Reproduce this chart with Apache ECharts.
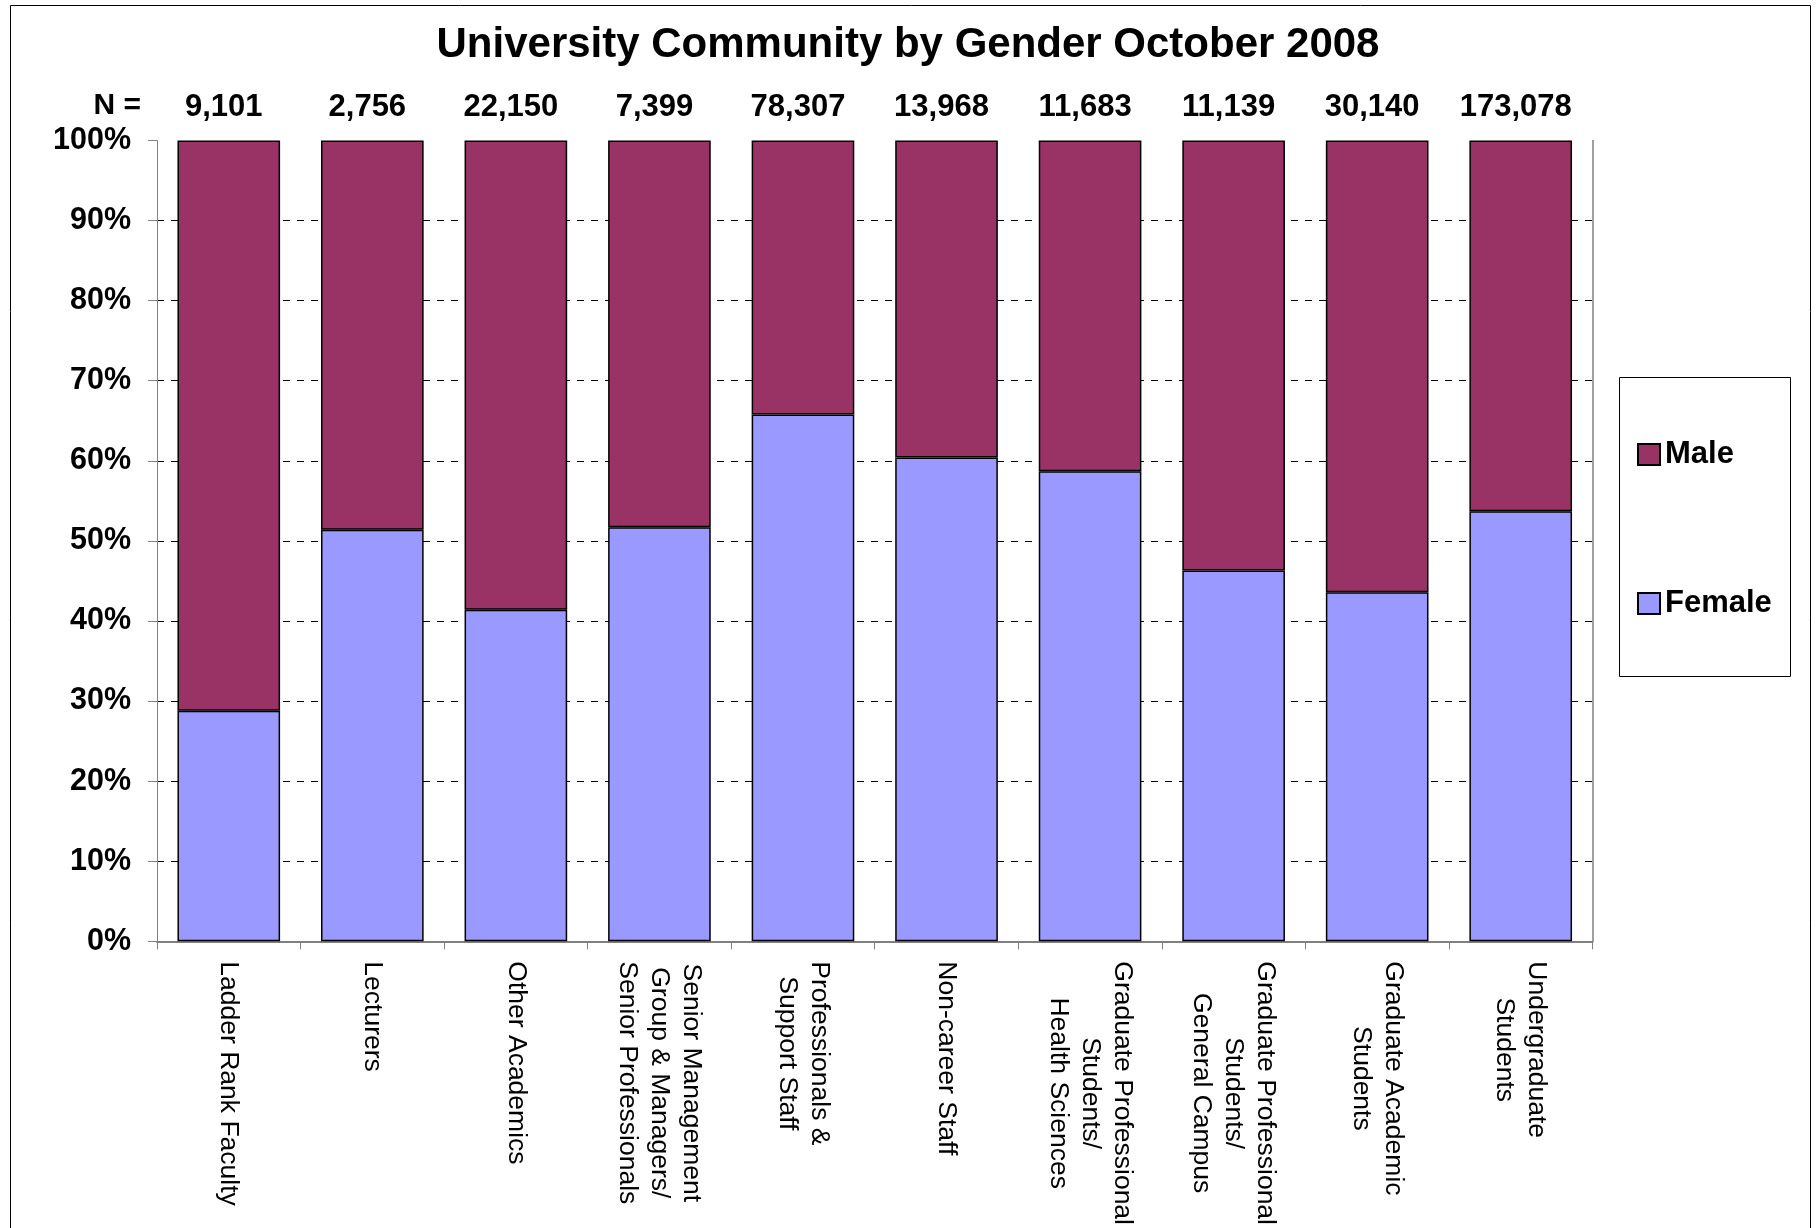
<!DOCTYPE html>
<html>
<head>
<meta charset="utf-8">
<script src="https://cdn.jsdelivr.net/npm/echarts@6/dist/echarts.min.js"></script>
<style>
html,body{margin:0;padding:0;background:#fff;}
#chart{width:1818px;height:1228px;}
</style>
</head>
<body>
<div id="chart"></div>
<script>
var categories = [
  "Ladder Rank Faculty",
  "Lecturers",
  "Other Academics",
  "Senior Management\nGroup & Managers/\nSenior Professionals",
  "Professionals &\nSupport Staff",
  "Non-career Staff",
  "Graduate Professional\nStudents/\nHealth Sciences",
  "Graduate Professional\nStudents/\nGeneral Campus",
  "Graduate Academic\nStudents",
  "Undergraduate\nStudents"
];
var nLabels = ["9,101", "2,756", "22,150", "7,399", "78,307", "13,968", "11,683", "11,139", "30,140", "173,078"];
var female = [28.8, 51.4, 41.4, 51.7, 65.8, 60.4, 58.7, 46.3, 43.6, 53.7];
var male = [71.2, 48.6, 58.6, 48.3, 34.2, 39.6, 41.3, 53.7, 56.4, 46.3];
var yTicks = [0, 10, 20, 30, 40, 50, 60, 70, 80, 90, 100];

var FONT = "'Liberation Sans', Arial, sans-serif";
var chart = echarts.init(document.getElementById('chart'), null, {renderer: 'canvas'});
var option = {
  backgroundColor: '#fff',
  animation: false,
  title: {
    text: 'University Community by Gender October 2008',
    left: 903,
    textAlign: 'center',
    top: 19,
    textStyle: {fontFamily: FONT, fontWeight: 'bold', fontSize: 42, color: '#000'}
  },
  grid: {left: 157, right: 225.5, top: 140.5, bottom: 286.5, containLabel: false},
  legend: {
    data: ['Male', 'Female'],
    orient: 'vertical',
    left: 1637,
    top: 439,
    itemWidth: 22,
    itemHeight: 21,
    itemGap: 118,
    padding: 0,
    icon: 'rect',
    itemStyle: {borderColor: '#000', borderWidth: 2},
    textStyle: {fontFamily: FONT, fontWeight: 'bold', fontSize: 31, color: '#000'}
  },
  xAxis: [
    {
      type: 'category',
      data: categories,
      position: 'bottom',
      axisLine: {show: true, lineStyle: {color: '#808080', width: 1}},
      axisTick: {show: true, length: 8, lineStyle: {color: '#808080'}},
      axisLabel: {
        rotate: -90,
        margin: 20,
        interval: 0,
        color: '#000',
        fontFamily: FONT,
        fontSize: 26.5,
        lineHeight: 32,
        formatter: function (v) {
          return v.split('\n').map(function (s) { return '{c|' + s + '}'; }).join('\n');
        },
        rich: {c: {align: 'center', fontFamily: FONT, fontSize: 26.5, lineHeight: 32, color: '#000'}}
      },
      splitLine: {show: false}
    },
    {
      type: 'category',
      data: nLabels,
      position: 'top',
      z: 1,
      axisLine: {show: true, lineStyle: {color: '#808080', width: 2}},
      axisTick: {show: false},
      axisLabel: {margin: 18, interval: 0, color: '#000', fontFamily: FONT, fontWeight: 'bold', fontSize: 31, padding: [0, 10, 0, 0]},
      splitLine: {show: false}
    }
  ],
  yAxis: [
    {
      type: 'value',
      min: 0, max: 100, interval: 10,
      position: 'left',
      axisLine: {show: true, lineStyle: {color: '#808080', width: 1}},
      axisTick: {show: true, length: 9, lineStyle: {color: '#808080'}},
      axisLabel: {margin: 26, color: '#000', fontFamily: FONT, fontWeight: 'bold', fontSize: 30.5, formatter: '{value}%'},
      splitLine: {show: true, showMinLine: false, showMaxLine: false, lineStyle: {color: '#000', width: 1, type: [7, 7]}}
    },
    {
      type: 'value',
      min: 0, max: 100, interval: 10,
      position: 'right',
      axisLine: {show: true, lineStyle: {color: '#808080', width: 1.5}},
      axisTick: {show: false},
      axisLabel: {show: false},
      splitLine: {show: false}
    }
  ],
  series: [
    {
      name: 'Female',
      type: 'bar',
      stack: 'g',
      data: female,
      barWidth: '71.5%',
      itemStyle: {color: '#9999FF', borderColor: '#000', borderWidth: 1.5}
    },
    {
      name: 'Male',
      type: 'bar',
      stack: 'g',
      data: male,
      barWidth: '71.5%',
      itemStyle: {color: '#993366', borderColor: '#000', borderWidth: 1.5}
    }
  ],
  graphic: [
    {type: 'rect', shape: {x: 10.5, y: 5.5, width: 1800, height: 1400}, style: {fill: 'transparent', stroke: '#000', lineWidth: 1}, silent: true},
    {type: 'rect', shape: {x: 1619.5, y: 377.5, width: 171, height: 299}, style: {fill: 'transparent', stroke: '#000', lineWidth: 1}, silent: true},
    {type: 'text', right: 1818 - 141, top: 91, style: {text: 'N =', fontFamily: FONT, fontWeight: 'bold', fontSize: 30, fill: '#000'}}
  ]
};
chart.setOption(option);
</script>
</body>
</html>
